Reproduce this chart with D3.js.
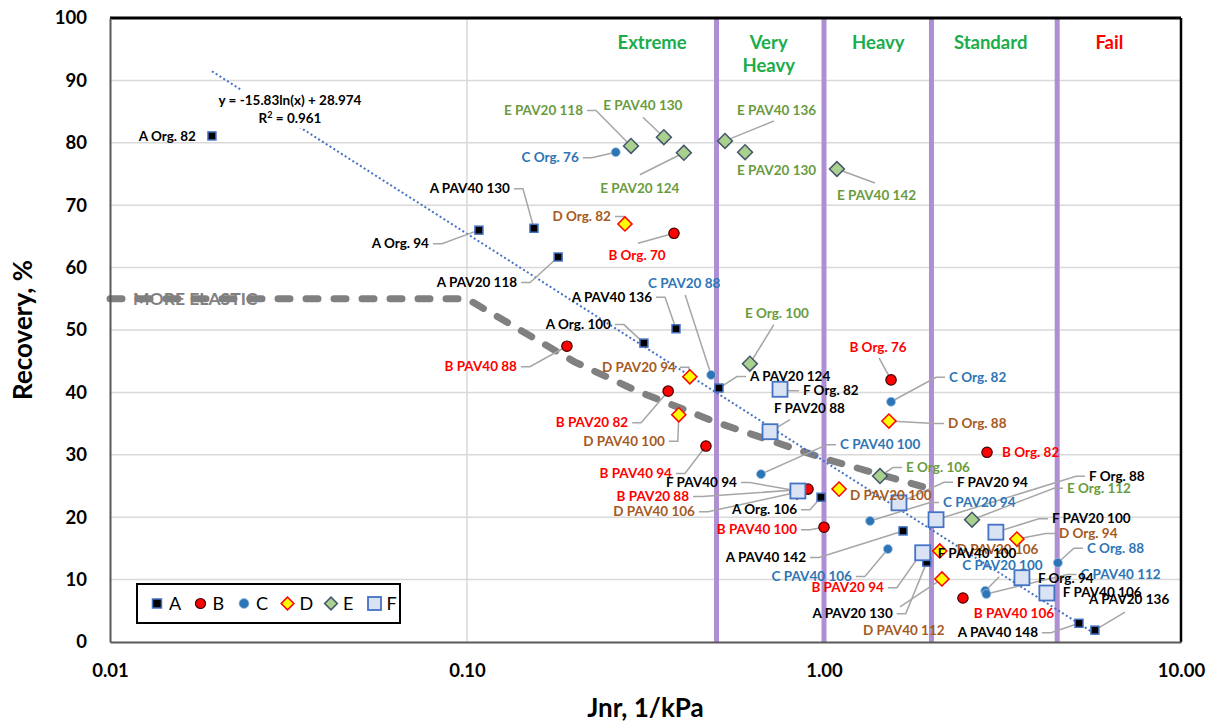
<!DOCTYPE html>
<html>
<head>
<meta charset="utf-8">
<script src="https://cdn.jsdelivr.net/npm/d3@7"></script>
<style>
  body { margin: 0; background: #fff; }
  svg text { font-family: Lato, "Open Sans", sans-serif; }
</style>
</head>
<body>
<div id="graf"></div>
<script>
// Datos: [nombre, Jnr (1/kPa), Recovery (%)]
const seriesA = [
  ["A Org. 82", 0.0193, 81.1], ["A Org. 94", 0.108, 66.0], ["A PAV40 130", 0.154, 66.3],
  ["A PAV20 118", 0.180, 61.7], ["A PAV40 136", 0.385, 50.2], ["A Org. 100", 0.313, 47.9],
  ["A PAV20 124", 0.508, 40.7], ["A Org. 106", 0.981, 23.2], ["A PAV40 142", 1.665, 17.8],
  ["A PAV20 130", 1.94, 12.8], ["A PAV40 148", 5.18, 3.0], ["A PAV20 136", 5.74, 1.9]
]
const seriesB = [
  ["B Org. 70", 0.380, 65.5], ["B PAV40 88", 0.1905, 47.4], ["B PAV20 82", 0.366, 40.2],
  ["B PAV40 94", 0.467, 31.4], ["B PAV20 88", 0.902, 24.5], ["B PAV40 100", 1.0, 18.4],
  ["B Org. 76", 1.541, 42.0], ["B Org. 82", 2.862, 30.4], ["B PAV20 94", 1.88, 14.4],
  ["B PAV40 106", 2.45, 7.05]
]
const seriesC = [
  ["C Org. 76", 0.261, 78.5], ["C PAV20 88", 0.483, 42.8], ["C Org. 82", 1.541, 38.5],
  ["C PAV40 100", 0.666, 26.9], ["C PAV20 94", 1.346, 19.4], ["C PAV40 106", 1.51, 14.9],
  ["C Org. 88", 4.52, 12.7], ["C PAV20 100", 2.83, 8.2], ["C PAV40 112", 2.85, 7.7]
]
const seriesD = [
  ["D Org. 82", 0.277, 67.0], ["D PAV20 94", 0.421, 42.5], ["D PAV40 100", 0.392, 36.4],
  ["D PAV40 106", 0.84, 24.0], ["D PAV20 100", 1.102, 24.5], ["D Org. 88", 1.52, 35.4],
  ["D PAV20 106", 2.11, 14.6], ["D Org. 94", 3.47, 16.5], ["D PAV40 112", 2.14, 10.1]
]
const seriesE = [
  ["E PAV20 118", 0.288, 79.5], ["E PAV40 130", 0.356, 80.9], ["E PAV20 124", 0.405, 78.4],
  ["E PAV40 136", 0.528, 80.3], ["E PAV20 130", 0.601, 78.5], ["E PAV40 142", 1.087, 75.8],
  ["E Org. 100", 0.620, 44.6], ["E Org. 106", 1.435, 26.6], ["E Org. 112", 2.598, 19.6]
]
const seriesF = [
  ["F Org. 82", 0.753, 40.5], ["F PAV20 88", 0.706, 33.7], ["F PAV40 94", 0.845, 24.2],
  ["F PAV20 94", 1.622, 22.3], ["F Org. 88", 2.06, 19.6], ["F PAV20 100", 3.03, 17.6],
  ["F PAV40 100", 1.89, 14.3], ["F Org. 94", 3.585, 10.3], ["F PAV40 106", 4.21, 7.85]
]

// Curva "MORE ELASTIC" (línea gris discontinua)
const elasticJnr = [0.01, 0.1, 0.2, 0.3, 0.5, 1, 2]
const elasticRec = [55, 55, 44.9, 40.2, 35.2, 29.4, 24.5]

// Límites de tráfico (líneas moradas) y rótulos
const limits = [0.5, 1, 2, 4.5]
const zoneNames = [["Extreme"], ["Very", "Heavy"], ["Heavy"], ["Standard"], ["Fail"]]
const zoneJnr = [0.33, 0.70, 1.42, 2.93, 6.3]

// Línea de tendencia y = a ln(x) + b
const trendA = -15.83
const trendB = 28.974
const trendRange = [0.0193, 5.74]

// Ejes
const xTicks = [0.01, 0.1, 1, 10]
const yTicks = [0, 10, 20, 30, 40, 50, 60, 70, 80, 90, 100]

// Ubicación de etiquetas: [dx, dy, anchor, guía]
const labelPlace = {
  "A Org. 82": [-16, 5, "end", false], "A Org. 94": [-50, 18, "end", true],
  "A PAV40 130": [-24, -35, "end", true], "A PAV20 118": [-41, 30, "end", true],
  "A PAV40 136": [-24, -27, "end", true], "A Org. 100": [-33, -14, "end", true],
  "A PAV20 124": [31, -7, "start", true], "A Org. 106": [-24, 17, "end", true],
  "A PAV40 142": [-97, 31, "end", true], "A PAV20 130": [-34, 56, "end", true],
  "A PAV40 148": [-41, 14, "end", true], "A PAV20 136": [-6, -26, "start", [30, -18]],
  "B Org. 70": [-37, 27, "middle", [-36, 10]], "B PAV40 88": [-50, 25, "end", true],
  "B PAV20 82": [-40, 36, "end", true], "B PAV40 94": [-34, 32, "end", true],
  "B PAV20 88": [-119, 12, "end", true], "B PAV40 100": [-27, 7, "end", true],
  "B Org. 76": [-13, -28, "middle", [-12, -22]], "B Org. 82": [15, 5, "start", false],
  "B PAV20 94": [-38, 40, "end", true], "B PAV40 106": [51, 20, "middle", false],
  "C Org. 76": [-37, 10, "end", true], "C PAV20 88": [-27, -87, "middle", [-26, -80]],
  "C Org. 82": [58, -20, "start", true], "C PAV40 100": [79, -25, "start", true],
  "C PAV20 94": [73, -14, "start", true], "C PAV40 106": [-36, 32, "end", true],
  "C Org. 88": [29, -10, "start", true], "C PAV20 100": [-23, -21, "start", [14, -14]],
  "C PAV40 112": [94, -15, "start", true],
  "D Org. 82": [-14, -3, "end", true], "D PAV20 94": [-14, -5, "end", true],
  "D PAV40 100": [-14, 31, "end", true], "D PAV40 106": [-102, 24, "end", true],
  "D PAV20 100": [11, 11, "start", false], "D Org. 88": [59, 7, "start", true],
  "D PAV20 106": [17, 3, "start", false], "D Org. 94": [42, -1, "start", true],
  "D PAV40 112": [-79, 56, "start", [-42, 28]],
  "E PAV20 118": [-48, -31, "end", true], "E PAV40 130": [-21, -27, "middle", [-21, -20]],
  "E PAV20 124": [-44, 40, "middle", [-44, 22]], "E PAV40 136": [12, -26, "start", [49, -20]],
  "E PAV20 130": [-8, 23, "start", false], "E PAV40 142": [0, 31, "start", [38, 14]],
  "E Org. 100": [27, -46, "middle", [24, -39]], "E Org. 106": [26, -4, "start", true],
  "E Org. 112": [95, -27, "start", true],
  "F Org. 82": [23, 6, "start", true], "F PAV20 88": [4, -19, "start", [20, -12]],
  "F PAV40 94": [-61, -4, "end", true], "F PAV20 94": [58, -16, "start", true],
  "F Org. 88": [153, -39, "start", true], "F PAV20 100": [56, -9, "start", true],
  "F PAV40 100": [15, 5, "start", false], "F Org. 94": [16, 5, "start", false],
  "F PAV40 106": [16, 4, "start", false]
}

// Estilo por serie
const styles = {
  A: { shape: "square", size: 8, fill: "#000", stroke: "#4472c4", sw: 1.5, text: "#000" },
  B: { shape: "circle", size: 5.2, fill: "#ff0000", stroke: "#400000", sw: 1.2, text: "#ff0000" },
  C: { shape: "circle", size: 4.5, fill: "#2e75b6", stroke: "#9dc3e6", sw: 0.8, text: "#2e75b6" },
  D: { shape: "diamond", size: 10, fill: "#ffff00", stroke: "#ff0000", sw: 1.5, text: "#a65a23" },
  E: { shape: "diamond", size: 10.5, fill: "#a9d18e", stroke: "#44546a", sw: 1.5, text: "#6a9b3e" },
  F: { shape: "square", size: 15, fill: "#dae3f3", stroke: "#4472c4", sw: 1.8, text: "#000" }
}

const allSeries = [["A", seriesA], ["B", seriesB], ["C", seriesC], ["D", seriesD], ["E", seriesE], ["F", seriesF]]

const drawMarker = (sel, st) => {
  if (st.shape === "circle") {
    sel.append("circle").attr("r", st.size)
  } else if (st.shape === "square") {
    sel.append("rect").attr("x", -st.size / 2).attr("y", -st.size / 2)
      .attr("width", st.size).attr("height", st.size)
  } else {
    sel.append("rect").attr("x", -st.size / 2).attr("y", -st.size / 2)
      .attr("width", st.size).attr("height", st.size).attr("transform", "rotate(45)")
  }
  sel.selectAll("*").attr("fill", st.fill).attr("stroke", st.stroke).attr("stroke-width", st.sw)
}

const draw = () => {
  const anchoTotal = 1213
  const altoTotal = 722
  const margins = { top: 18, right: 32, bottom: 80, left: 110 }

  const svg = d3.select("#graf").append("svg")
    .attr("width", anchoTotal).attr("height", altoTotal)

  const x = d3.scaleLog().domain([0.01, 10]).range([margins.left, anchoTotal - margins.right])
  const y = d3.scaleLinear().domain([0, 100]).range([altoTotal - margins.bottom, margins.top])
  const [x0, x1] = x.range()
  const [y0, y1] = y.range()

  // Rejilla
  svg.append("g").selectAll("line").data(yTicks.slice(1, -1)).join("line")
    .attr("x1", x0).attr("x2", x1).attr("y1", y).attr("y2", y)
    .attr("stroke", "#d9d9d9").attr("stroke-width", 1.5)
  svg.append("g").selectAll("line").data(xTicks.slice(1, -1)).join("line")
    .attr("x1", x).attr("x2", x).attr("y1", y0).attr("y2", y1)
    .attr("stroke", "#d9d9d9").attr("stroke-width", 1.5)

  // Límites
  svg.append("g").selectAll("line").data(limits).join("line")
    .attr("x1", x).attr("x2", x).attr("y1", y0).attr("y2", y1)
    .attr("stroke", "#ae8fd3").attr("stroke-width", 5)

  // Rótulos de zonas
  zoneNames.forEach((lines, i) => {
    lines.forEach((t, j) => {
      svg.append("text")
        .attr("x", x(zoneJnr[i])).attr("y", 49 + j * 23)
        .attr("text-anchor", "middle")
        .attr("font-size", 18.5).attr("font-weight", "bold")
        .attr("fill", t === "Fail" ? "#ff0000" : "#1aad4b")
        .text(t)
    })
  })

  // Texto MORE ELASTIC
  svg.append("text")
    .attr("x", 133).attr("y", y(55) + 6.5)
    .attr("font-size", 17.5).attr("font-weight", "bold").attr("fill", "#808080")
    .text("MORE ELASTIC")

  // Línea gris discontinua
  svg.append("path")
    .datum(elasticJnr.map((d, i) => [d, elasticRec[i]]))
    .attr("fill", "none").attr("stroke", "#808080").attr("stroke-width", 7)
    .attr("stroke-linecap", "round").attr("stroke-dasharray", "12,16")
    .attr("d", d3.line().x((d) => x(d[0])).y((d) => y(d[1])))

  // Línea de tendencia
  svg.append("path")
    .datum(trendRange.map((j) => [j, trendA * Math.log(j) + trendB]))
    .attr("fill", "none").attr("stroke", "#4472c4").attr("stroke-width", 2)
    .attr("stroke-dasharray", "2,2.5")
    .attr("d", d3.line().x((d) => x(d[0])).y((d) => y(d[1])))

  // Ecuación
  const eq = svg.append("g")
  const eqBox = eq.append("rect").attr("fill", "#fff")
  const eqText = eq.append("text").attr("text-anchor", "middle")
    .attr("font-size", 13.5).attr("font-weight", "bold")
  eqText.append("tspan").attr("x", 290).attr("y", 105).text("y = -15.83ln(x) + 28.974")
  const r2 = eqText.append("tspan").attr("x", 290).attr("y", 123).text("R")
  r2.append("tspan").attr("dy", -5).attr("font-size", 9).text("2")
  r2.append("tspan").attr("dy", 5).text(" = 0.961")
  const bb = eqText.node().getBBox()
  eqBox.attr("x", bb.x - 4).attr("y", bb.y - 2).attr("width", bb.width + 8).attr("height", bb.height + 4)

  // Guías de etiquetas
  const leaders = svg.append("g")
  const marks = svg.append("g")
  const labels = svg.append("g")

  allSeries.forEach(([key, data]) => {
    const st = styles[key]
    data.forEach(([name, jnr, rec]) => {
      const px = x(jnr)
      const py = y(rec)
      const [dx, dy, anchor, lead] = labelPlace[name]
      if (lead) {
        let sx, sy, ex
        if (Array.isArray(lead)) {
          sx = lead[0]; sy = lead[1]; ex = sx
        } else if (anchor === "end") {
          sx = dx + 4; sy = dy - 4.5; ex = sx + 9
        } else {
          sx = dx - 4; sy = dy - 4.5; ex = sx - 9
        }
        leaders.append("path")
          .attr("d", `M${px + sx},${py + sy}L${px + ex},${py + sy}L${px},${py}`)
          .attr("fill", "none").attr("stroke", "#a6a6a6").attr("stroke-width", 1.5)
      }
      const m = marks.append("g").attr("transform", `translate(${px},${py})`)
      drawMarker(m, st)
      labels.append("text")
        .attr("x", px + dx).attr("y", py + dy)
        .attr("text-anchor", anchor)
        .attr("font-size", 13.5).attr("font-weight", "bold")
        .attr("fill", st.text)
        .text(name)
    })
  })

  // Marco
  svg.append("line").attr("x1", x0).attr("x2", x1).attr("y1", y1).attr("y2", y1)
    .attr("stroke", "#000").attr("stroke-width", 3)
  svg.append("line").attr("x1", x1).attr("x2", x1).attr("y1", y1).attr("y2", y0)
    .attr("stroke", "#000").attr("stroke-width", 2.5)

  // Ejes
  const xAxis = svg.append("g").attr("transform", `translate(0, ${y0})`)
    .call(d3.axisBottom(x).tickValues(xTicks).tickFormat(d3.format(".2f")).tickSize(0).tickPadding(22))
  const yAxis = svg.append("g").attr("transform", `translate(${x0}, 0)`)
    .call(d3.axisLeft(y).tickValues(yTicks).tickSize(0).tickPadding(23))
  ;[xAxis, yAxis].forEach((a) => {
    a.select(".domain").attr("stroke", "#595959").attr("stroke-width", 2)
    a.selectAll("text").attr("font-size", 18.5).attr("font-weight", "bold")
      .attr("font-family", "Lato, sans-serif").attr("fill", "#000")
  })

  // Títulos de ejes
  svg.append("text")
    .attr("x", (x0 + x1) / 2).attr("y", 717)
    .attr("text-anchor", "middle").attr("font-size", 26).attr("font-weight", "bold")
    .text("Jnr, 1/kPa")
  svg.append("text")
    .attr("transform", `translate(32, ${(y0 + y1) / 2}) rotate(-90)`)
    .attr("text-anchor", "middle").attr("font-size", 26).attr("font-weight", "bold")
    .text("Recovery, %")

  // Leyenda
  const legend = svg.append("g").attr("transform", "translate(137, 584)")
  legend.append("rect").attr("width", 263).attr("height", 39)
    .attr("fill", "#fff").attr("stroke", "#000").attr("stroke-width", 2)
  allSeries.forEach(([key], i) => {
    const cx = 20 + i * 43.5
    const m = legend.append("g").attr("transform", `translate(${cx}, 19.5)`)
    const st = styles[key]
    drawMarker(m, { ...st, size: st.shape === "circle" ? 5 : st.shape === "diamond" ? 9 : (key === "F" ? 13 : 9) })
    legend.append("text").attr("x", cx + 12).attr("y", 26)
      .attr("font-size", 18).text(key)
  })
}

draw()
</script>
</body>
</html>
